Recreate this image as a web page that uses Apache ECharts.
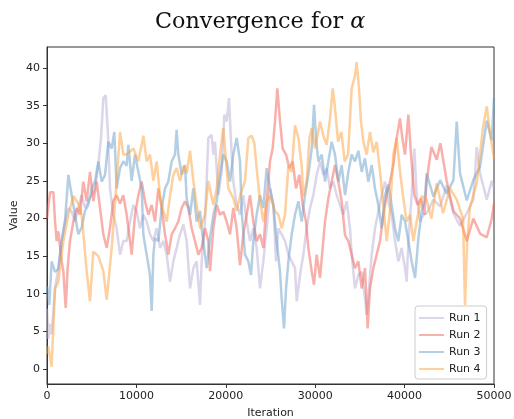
<!DOCTYPE html>
<html>
<head>
<meta charset="utf-8">
<script src="https://cdn.jsdelivr.net/npm/echarts@6/dist/echarts.min.js"></script>
<style>
html,body{margin:0;padding:0;background:#fff;}
#chart{width:514px;height:419px;}
</style>
</head>
<body>
<div id="chart"></div>
<script>
const seriesNames = ['Run 1', 'Run 2', 'Run 3', 'Run 4'];
const yTicks = [0, 5, 10, 15, 20, 25, 30, 35, 40];
const xTicks = [0, 10000, 20000, 30000, 40000, 50000];

const run1 = [[0,8],[150,4],[340,6],[520,4.6],[895,10.7],[1268,13.4],[1640,17],[2013,19.6],[2386,21.4],[2759,20.9],[3132,19.6],[3505,21.4],[3878,23.1],[4250,21.4],[4623,22.3],[4996,23.1],[5369,24],[5742,27.1],[6040,30.7],[6302,36],[6563,36.4],[6786,32],[7047,24],[7420,20.5],[7793,18.7],[8166,15.2],[8539,17],[8912,17],[9285,19.6],[9657,21.8],[10030,20.9],[10403,18.7],[10777,20.5],[11150,19.6],[11522,17.9],[11895,17],[12268,18.7],[12641,16.1],[13014,17],[13387,15.2],[13760,11.6],[14133,14.3],[14505,16.1],[14878,17.9],[15251,19.2],[15624,17],[15997,10.7],[16370,13.4],[16743,14.3],[17115,8.5],[17301,14.3],[17674,19.6],[18046,30.7],[18419,31.1],[18606,28.5],[18792,30.2],[19165,23.1],[19538,26.2],[19836,33.8],[20097,32.9],[20358,36],[20582,30.2],[20843,24.9],[21216,21.8],[21589,20.5],[21961,23.1],[22334,19.6],[22707,17],[23080,18.7],[23453,16.1],[23826,10.7],[24199,14.3],[24572,18.7],[24945,24],[25318,21.8],[25616,14.3],[25877,18.7],[26250,17.9],[26623,17],[26996,15.2],[27369,14.3],[27742,13.4],[27929,9],[28302,12.5],[28674,15.2],[29047,18.7],[29420,21.4],[29793,23.1],[30166,25.8],[30538,27.6],[30911,25.8],[31284,26.7],[31657,24],[32030,24.9],[32403,23.1],[32776,21.8],[33149,20.5],[33521,22.3],[33894,18.7],[34080,15.2],[34453,10.7],[34826,12.5],[35199,12.9],[35571,9.4],[35758,7.2],[36019,10.7],[36317,15.2],[36690,18.7],[37063,20.9],[37436,23.1],[37809,24.9],[38182,22.3],[38554,20.5],[38927,17],[39300,14.3],[39673,16.1],[40046,13.4],[40233,11.6],[40419,17],[40792,23.1],[41090,29.3],[41352,23.1],[41725,19.6],[42098,20.5],[42470,20.7],[43220,22.5],[43970,21.6],[44710,24.4],[45460,20.7],[46200,19],[46950,20.7],[47690,22.5],[48070,29.5],[48440,26],[49190,22.5],[49750,25],[50000,24]];

const run2 = [[0,20],[340,23.5],[710,23.5],[900,19.6],[1080,17],[1270,18.3],[1640,14.3],[1830,13],[2090,8.1],[2310,13.4],[2570,17],[2950,19.6],[3320,21.4],[3690,20.5],[4060,24.9],[4440,22.3],[4810,26.2],[5180,22.3],[5560,24.9],[5930,21.4],[6300,17.9],[6680,16.1],[7050,18.8],[7420,22.3],[7790,23.1],[8166,22],[8539,23.1],[8912,20.5],[9285,17],[9471,15.2],[9844,20.5],[10217,23.1],[10590,24.9],[10963,22.3],[11336,20.5],[11709,21.8],[12082,19.6],[12455,24],[12827,21.4],[13200,17.9],[13573,15.2],[13946,17.9],[14319,18.7],[14692,19.6],[15065,21.4],[15437,22.3],[15810,21.4],[16183,18.7],[16556,17],[16928,15.2],[17301,16.1],[17674,18.7],[18046,17],[18233,13],[18606,18.7],[18979,21.8],[19352,20.5],[19725,20.9],[20097,19.6],[20470,17.9],[20843,21.4],[21216,18.7],[21589,13.8],[21961,17.9],[22334,20.5],[22707,23.1],[23080,19.6],[23453,17],[23826,17.9],[24199,16.1],[24572,22.3],[24945,27.6],[25243,29.3],[25504,32.9],[25765,37.3],[26064,32.9],[26362,29.3],[26735,28.5],[27108,26.7],[27481,27.6],[27854,24],[28227,25.8],[28600,21.8],[28973,19.6],[29233,16.1],[29606,13],[29867,11.2],[30166,15.2],[30538,12.1],[30837,16.1],[31098,19.6],[31471,22.7],[31843,24.9],[32216,27.1],[32589,24.9],[32962,22.3],[33335,17.8],[33707,17],[34080,15.2],[34453,13.4],[34826,14.3],[35199,10.7],[35571,13.4],[35870,5.4],[36131,10.7],[36504,13.4],[36877,15.2],[37249,17],[37622,20.5],[37995,23.1],[38368,24.9],[38741,27.1],[39114,30.7],[39487,33.3],[39748,30.7],[40046,28.5],[40419,33.8],[40717,28.5],[41090,23.1],[41463,21.8],[41836,22.7],[42209,20.5],[42470,25],[43000,29.5],[43590,27.8],[44000,30],[44710,25],[45460,21],[46200,20],[46950,17],[47690,20],[48440,18],[49190,17.5],[49750,20],[50000,22]];

const run3 = [[0,11],[250,8.5],[520,14.3],[900,12.9],[1270,13.3],[1640,17],[2010,19.6],[2390,25.8],[2760,23.1],[3130,20.5],[3500,17.9],[3880,18.8],[4250,21],[4620,21.8],[5000,24],[5370,24.9],[5740,27.6],[6120,24.9],[6490,25.8],[6860,30.2],[7230,29.3],[7530,31.5],[7790,24],[8170,26.7],[8540,27.6],[8910,27],[9100,29.8],[9470,25],[9840,28.5],[10220,26.2],[10590,24],[10780,17.8],[11150,15.2],[11520,12.5],[11710,7.7],[11900,15.2],[12080,17.4],[12460,17],[12830,21.4],[13200,24],[13570,24.9],[13950,27.6],[14320,28.5],[14500,31.8],[14690,28.5],[15070,25.8],[15440,27.1],[15620,22.7],[16000,20.5],[16370,24],[16740,19.6],[17120,21],[17300,18.7],[17670,15.2],[17860,13.4],[18230,17.4],[18610,20.5],[18980,22.3],[19350,25.8],[19720,28.5],[20100,27.6],[20470,24.9],[20840,28.5],[21220,30.7],[21590,27.6],[21780,20.9],[22150,15.2],[22520,14.3],[22820,12.5],[23080,17],[23450,20.5],[23830,23.1],[24200,21.4],[24570,26.7],[24950,24],[25320,21.8],[25690,17],[26060,13],[26250,9.4],[26510,5.4],[26740,10.7],[27000,14.3],[27370,17.9],[27740,20.5],[28120,22.3],[28490,19.6],[28860,23.1],[29230,25.8],[29610,29.3],[29870,35.1],[30090,30.7],[30350,27.6],[30730,28.5],[31100,24.9],[31470,27.6],[31840,30.2],[32220,28.5],[32590,24.9],[32960,27.1],[33340,23.1],[33710,26.2],[34080,28.5],[34450,27.6],[34830,29],[35200,26.2],[35570,28],[35940,24.9],[36320,27.1],[36690,24],[37060,21.8],[37440,18.7],[37810,23.1],[38180,24.5],[38550,21.8],[38930,18.7],[39300,17],[39670,20.5],[40050,19.6],[40420,17],[40790,14.3],[41170,12.1],[41540,17.4],[41910,20.9],[42280,22.7],[42470,26],[43220,22.9],[43970,25.1],[44710,23.3],[45460,25.1],[45830,32.9],[46200,26],[46950,22.4],[47690,25.1],[48440,26.9],[49190,33],[49750,30.4],[50000,36]];

const run4 = [[0,2],[150,3],[520,0.3],[900,10.7],[1270,11.6],[1830,17],[2390,20.5],[2950,23],[3500,22],[3880,20.5],[4440,13],[4810,9],[5180,15.6],[5740,15],[6300,13],[6680,9.2],[7230,16],[7610,22],[8170,31.5],[8540,28.5],[8910,28.5],[9660,29.3],[10220,27.6],[10780,31],[11150,27.6],[11520,28.5],[11900,25],[12270,27.6],[12640,23],[13010,21],[13390,19.6],[13760,23],[14130,25.8],[14500,26.7],[14880,25],[15250,27],[15620,26],[16000,29],[16370,25],[16740,21.8],[17120,18.7],[17670,20.5],[18050,25],[18600,21.8],[18980,24],[19350,28.5],[19720,32],[20280,24],[20840,22.7],[21220,21],[21590,23],[22150,25],[22520,30.7],[22890,31],[23190,30],[23450,26.7],[23830,22.3],[24200,19.6],[24570,22.3],[24950,23],[25500,21],[25880,20.5],[26250,18.7],[26620,20.5],[27000,27],[27370,26.2],[27740,32.4],[28120,30.7],[28490,27],[28670,23],[29050,25],[29350,30.7],[29610,32],[29980,29.3],[30540,32.9],[30910,31],[31280,29.8],[31660,33.3],[31960,37.3],[32190,35],[32560,30.2],[32930,31.5],[33300,27.6],[33680,28.5],[34080,37.3],[34450,39],[34640,40.8],[34900,37.3],[35120,32.9],[35390,30.2],[35760,28.5],[36130,31.5],[36500,28.8],[36880,30.2],[37250,26.2],[37620,21.8],[38000,17],[38370,21],[38740,28.5],[39110,30.7],[39490,26.2],[39860,22.7],[40230,19.6],[40610,20.5],[40980,17],[41350,19.6],[41910,23],[42470,22.5],[43000,20],[43590,24.7],[44300,20.7],[45080,24],[45830,22.5],[46530,20],[46760,8.5],[47000,17],[47320,21.6],[48070,24.7],[48780,32.2],[49190,34.9],[49560,31.3],[50000,28]];

const runs = [run1, run2, run3, run4];
const colors = ['rgba(185,173,213,0.5)', 'rgba(243,97,87,0.5)', 'rgba(106,159,201,0.5)', 'rgba(252,162,60,0.5)'];

const chart = echarts.init(document.getElementById('chart'), null, {renderer: 'canvas'});
const font = 'DejaVu Sans';
chart.setOption({
  animation: false,
  backgroundColor: '#ffffff',
  title: {
    text: '{a|Convergence for }{b|α}',
    left: 150,
    top: 6,
    textStyle: {
      fontWeight: 'normal',
      rich: {
        a: {fontFamily: 'DejaVu Serif', fontWeight: 'normal', fontSize: 22.3, color: '#111'},
        b: {fontFamily: 'DejaVu Serif', fontWeight: 'normal', fontStyle: 'italic', fontSize: 22.3, color: '#111'}
      }
    }
  },
  grid: {left: 47, right: 20, top: 47, bottom: 35, outerBoundsMode: 'none', containLabel: false, show: true, borderColor: '#333', borderWidth: 1, backgroundColor: 'transparent'},
  legend: {
    orient: 'vertical',
    left: 415, top: 306,
    data: seriesNames,
    icon: 'rect',
    itemWidth: 25, itemHeight: 2,
    itemGap: 5,
    padding: [6, 6, 4, 4],
    backgroundColor: '#fff',
    borderColor: '#ccc', borderWidth: 1, borderRadius: 3,
    textStyle: {fontFamily: font, fontSize: 11, color: '#222', lineHeight: 12}
  },
  xAxis: {
    type: 'value', min: 0, max: 50000, interval: 10000,
    name: 'Iteration', nameLocation: 'middle', nameGap: 24, nameMoveOverlap: false,
    nameTextStyle: {fontFamily: font, fontSize: 11, color: '#222'},
    axisLine: {show: true, onZero: false, lineStyle: {color: '#333'}},
    axisTick: {show: true, length: 4, lineStyle: {color: '#333'}},
    axisLabel: {fontFamily: font, fontSize: 11, color: '#222', margin: 7, formatter: v => String(v)},
    splitLine: {show: false}
  },
  yAxis: {
    type: 'value', min: -2, max: 42.8,
    name: 'Value', nameLocation: 'middle', nameGap: 27, nameMoveOverlap: false,
    nameTextStyle: {fontFamily: font, fontSize: 11, color: '#222'},
    axisLine: {show: true, onZero: false, lineStyle: {color: '#333'}},
    axisTick: {show: true, length: 4, lineStyle: {color: '#333'}, customValues: yTicks},
    axisLabel: {fontFamily: font, fontSize: 11, color: '#222', margin: 7, customValues: yTicks, formatter: v => String(v)},
    splitLine: {show: false}
  },
  series: runs.map((r, i) => ({
    name: seriesNames[i],
    type: 'line',
    data: r,
    showSymbol: false,
    symbol: 'none',
    color: colors[i],
    lineStyle: {width: 2.5, color: colors[i]},
    itemStyle: {color: colors[i]},
    emphasis: {disabled: true},
    z: 2 + i
  }))
});
</script>
</body>
</html>
